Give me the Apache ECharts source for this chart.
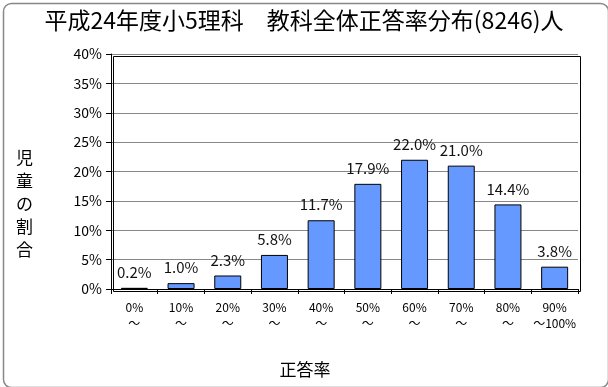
<!DOCTYPE html>
<html><head><meta charset="utf-8">
<script src="https://cdn.jsdelivr.net/npm/echarts@6/dist/echarts.min.js"></script>
<style>html,body{margin:0;padding:0;background:#fff}#c{width:608px;height:387px}</style>
</head><body><div id="c"></div>
<script>
const categories = ['0%\n～','10%\n～','20%\n～','30%\n～','40%\n～','50%\n～','60%\n～','70%\n～','80%\n～','90%\n～100%'];
const values = [0.2, 1.0, 2.3, 5.8, 11.7, 17.9, 22.0, 21.0, 14.4, 3.8];
const titleText = '平成24年度小5理科　教科全体正答率分布(8246)人';
const yName = '児童の割合';
const xName = '正答率';
const font = '"Noto Sans CJK JP", "Noto Sans", sans-serif';
const chart = echarts.init(document.getElementById('c'), null, {renderer:'canvas'});
chart.setOption({
  animation:false,
  backgroundColor:'#fff',
  title:{text:titleText,left:'center',top:4,textStyle:{fontFamily:font,fontSize:23,fontWeight:'normal',color:'#000'}},
  graphic:[
    {type:'rect',left:1,top:1,shape:{width:605,height:384,r:8},style:{fill:'none',stroke:'#888',lineWidth:1.5},z:-1},
    {type:'rect',left:111,top:54,shape:{width:467,height:235},style:{fill:'none',stroke:'#000',lineWidth:1},z:10},
    {type:'text',left:16,top:146,style:{text:yName.split('').join('\n'),fontFamily:font,fontSize:17,lineHeight:23,fill:'#000'}},
    {type:'text',x:305,y:370,style:{text:xName,fontFamily:font,fontSize:17,fill:'#000',align:'center',verticalAlign:'middle'}}
  ],
  grid:{left:111,right:30,top:54,bottom:98},
  xAxis:{type:'category',data:categories,
    axisLine:{lineStyle:{color:'#000'}},axisTick:{show:true,lineStyle:{color:'#000'},length:5},
    axisLabel:{fontFamily:font,fontSize:12,color:'#000',lineHeight:16,margin:10,interval:0}},
  yAxis:{type:'value',min:0,max:40,interval:5,
    axisLine:{show:true,lineStyle:{color:'#000'}},axisTick:{show:true,lineStyle:{color:'#000'},length:5},
    axisLabel:{fontFamily:font,fontSize:14,color:'#000',margin:9,formatter:v=>v+'%'},
    splitLine:{lineStyle:{color:'#888'}}},
  series:[{type:'bar',data:values,barWidth:27,
    itemStyle:{color:'#6699ff',borderColor:'#000',borderWidth:1},
    label:{show:true,position:'top',distance:8,fontFamily:font,fontSize:15,color:'#111',formatter:p=>p.value.toFixed(1)+'%'}}]
});
</script></body></html>
